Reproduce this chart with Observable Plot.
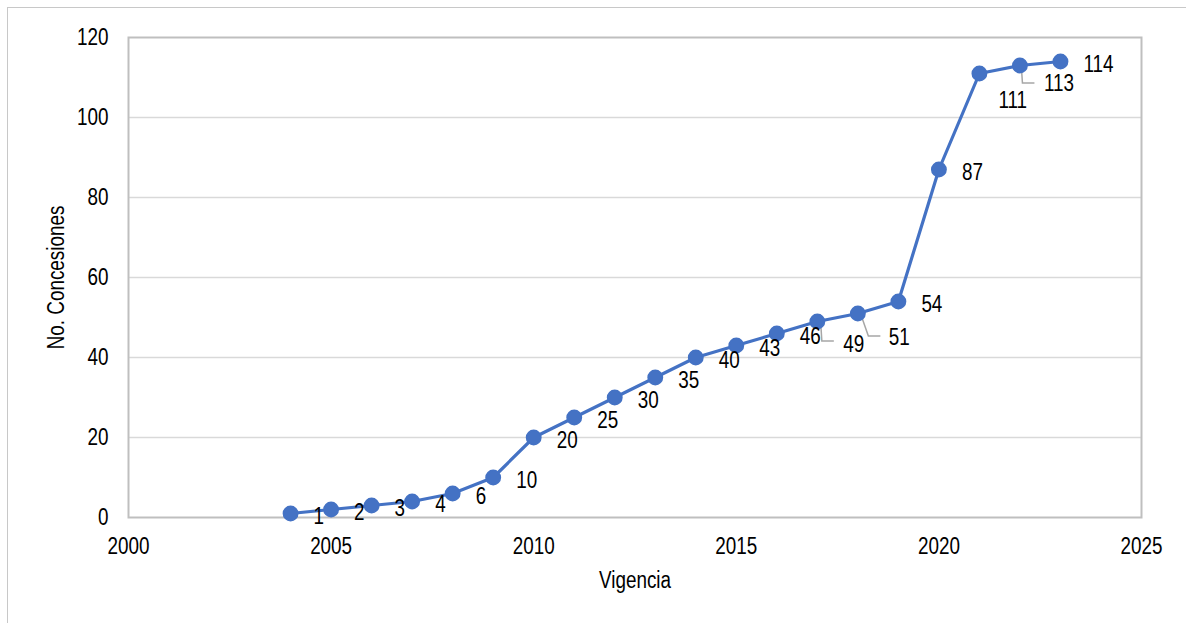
<!DOCTYPE html>
<html>
<head>
<meta charset="utf-8">
<script src="https://cdn.jsdelivr.net/npm/d3@7"></script>
<script src="https://cdn.jsdelivr.net/npm/@observablehq/plot@0.6"></script>
<style>
  html, body { margin: 0; padding: 0; background: #fff; }
  #wrap { position: relative; width: 1186px; height: 623px; overflow: hidden; }
  #border { position: absolute; left: 7px; top: 7px; width: 1200px; height: 640px;
            border-left: 1.5px solid #c8c8c8; border-top: 1.5px solid #c8c8c8; }
  #chart { position: absolute; left: 0; top: 0; }
</style>
</head>
<body>
<div id="wrap"><div id="border"></div><div id="chart"></div></div>
<script>
const years = [2004, 2005, 2006, 2007, 2008, 2009, 2010, 2011, 2012, 2013, 2014, 2015, 2016, 2017, 2018, 2019, 2020, 2021, 2022, 2023];
const concesiones = [1, 2, 3, 4, 6, 10, 20, 25, 30, 35, 40, 43, 46, 49, 51, 54, 87, 111, 113, 114];
const xTicks = [2000, 2005, 2010, 2015, 2020, 2025];
const yTicks = [0, 20, 40, 60, 80, 100, 120];
const xTitle = "Vigencia";
const yTitle = "No. Concesiones";

const data = years.map((y, i) => ({year: y, value: concesiones[i]}));
const callouts = [2017, 2018, 2021, 2022];
const FONT = "'Liberation Sans Narrow', 'Arial Narrow', 'Liberation Sans', Arial, sans-serif";
const FS = 23;
const NARROW = 0.82;

const leaderMark = (index, scales) => {
  // leader lines for displaced labels, drawn relative to each point's scaled position
  const g = d3.create("svg:g").attr("fill", "none").attr("stroke", "#a6a6a6").attr("stroke-width", 1.5);
  const segs = {
    2017: [[4, 4], [5, 20], [17, 20]],
    2018: [[4, 3], [11, 23], [23, 23]],
    2022: [[2, 3], [3, 18], [15, 18]]
  };
  for (const d of data) {
    const s = segs[d.year];
    if (!s) continue;
    const px = scales.x(d.year), py = scales.y(d.value);
    g.append("path").attr("d", d3.line()(s.map(([a, b]) => [px + a, py + b])));
  }
  return g.node();
};

const txt = (filter, dx, dy) => Plot.text(data.filter(filter), {
  x: "year", y: "value", text: d => String(d.value),
  dx, dy, textAnchor: "start", fontSize: FS, fill: "#000"
});

const chart = Plot.plot({
  width: 1186,
  height: 623,
  marginLeft: 128,
  marginRight: 45,
  marginTop: 37,
  marginBottom: 106,
  style: {fontFamily: FONT, fontSize: FS + "px", color: "#000", background: "transparent"},
  x: {domain: [2000, 2025], ticks: xTicks, tickFormat: d => String(d)},
  y: {domain: [0, 120], ticks: yTicks},
  marks: [
    Plot.ruleY(yTicks.filter(t => t > 0 && t < 120), {stroke: "#d9d9d9", strokeWidth: 1.5}),
    Plot.frame({stroke: "#bfbfbf", strokeWidth: 2}),
    Plot.axisX(xTicks, {tickSize: 0, tickPadding: 20, fontSize: FS, label: null, tickFormat: d => String(d)}),
    Plot.axisY(yTicks, {tickSize: 0, tickPadding: 20, fontSize: FS, label: null}),
    Plot.text([xTitle], {frameAnchor: "bottom", dy: 70, text: d => d, fontSize: FS}),
    Plot.text([yTitle], {frameAnchor: "left", textAnchor: "middle", dx: -72, rotate: -90, text: d => d, fontSize: FS}),
    leaderMark,
    Plot.line(data, {x: "year", y: "value", stroke: "#4472c4", strokeWidth: 3.2}),
    Plot.dot(data, {x: "year", y: "value", r: 7.2, fill: "#4472c4", stroke: "#4472c4"}),
    txt(d => !callouts.includes(d.year), 23, 3),
    txt(d => d.year === 2017, 26, 23),
    txt(d => d.year === 2018, 31, 24),
    txt(d => d.year === 2021, 19, 27),
    txt(d => d.year === 2022, 24, 18)
  ]
});
document.getElementById("chart").appendChild(chart);

// Emulate a narrow (Arial Narrow-like) face by condensing glyphs horizontally
chart.querySelectorAll("text").forEach(t => {
  const L = t.getComputedTextLength();
  if (L > 0) {
    t.setAttribute("textLength", (L * NARROW).toFixed(2));
    t.setAttribute("lengthAdjust", "spacingAndGlyphs");
  }
});
</script>
</body>
</html>
